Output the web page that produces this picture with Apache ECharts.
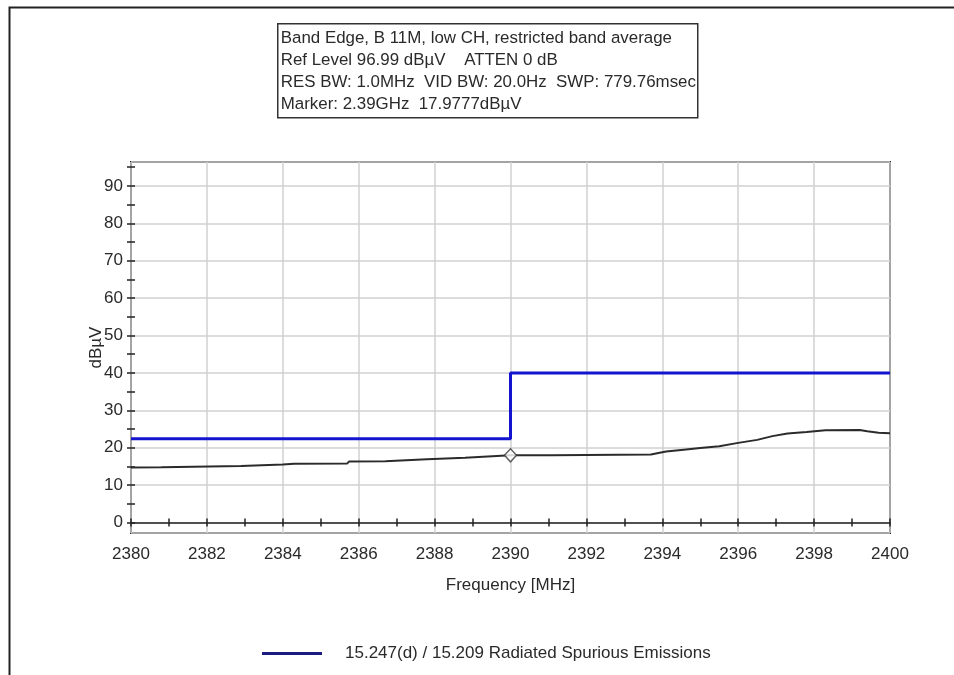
<!DOCTYPE html>
<html>
<head>
<meta charset="utf-8">
<title>Band Edge, B 11M, low CH</title>
<script src="https://cdn.jsdelivr.net/npm/echarts@6/dist/echarts.min.js"></script>
<style>
  html, body { margin: 0; padding: 0; background: #fff; }
  #chart { width: 954px; height: 675px; }
</style>
</head>
<body>
<div id="chart"></div>
<script>
// Header block text
const infoLines = [
  'Band Edge, B 11M, low CH, restricted band average',
  'Ref Level 96.99 dB\u00B5V    ATTEN 0 dB',
  'RES BW: 1.0MHz  VID BW: 20.0Hz  SWP: 779.76msec',
  'Marker: 2.39GHz  17.9777dB\u00B5V'
];

// Axis settings
const xRange = [2380, 2400];
const yRange = [-2.8, 96.4];
const xLabelStep = 2;
const yLabelStep = 10;
const xAxisName = 'Frequency [MHz]';
const yAxisName = 'dB\u00B5V';

// Limit line: 15.247(d) / 15.209 restricted band limit (frequency MHz, dBµV)
const limitName = '15.247(d) / 15.209 Radiated Spurious Emissions';
const limitFreq = [2380, 2390, 2390, 2400];
const limitLevel = [22.4, 22.4, 40, 40];

// Measured average trace (frequency MHz, dBµV)
const traceFreq = [
  2380, 2380.8, 2380.85, 2382.9, 2382.95, 2384.0, 2384.05, 2384.3,
  2385.7, 2385.75, 2386.7, 2386.75, 2387.8, 2387.85, 2388.8, 2388.85,
  2390, 2391.1, 2391.15, 2393.7, 2394.1, 2394.5, 2395.0, 2395.5,
  2396.0, 2396.5, 2396.9, 2397.3, 2397.8, 2398.3, 2399.2, 2399.4,
  2399.7, 2400
];
const traceLevel = [
  14.7, 14.8, 15.0, 15.1, 15.45, 15.5, 15.9, 15.7,
  15.8, 16.35, 16.4, 16.9, 16.95, 17.3, 17.35, 17.75,
  17.98, 18.0, 18.15, 18.2, 19.0, 19.4, 19.9, 20.4,
  21.3, 22.1, 23.1, 23.8, 24.2, 24.65, 24.75, 24.4,
  24.0, 23.85
];

// Marker
const markerFreq = 2390;
const markerLevel = 17.9777;

const FONT = '"Liberation Sans", Arial, sans-serif';
const TEXT = '#2a2a2a';
const GRID_LINE = { show: true, lineStyle: { color: '#d0d0d0', width: 1.5 } };

const zip = (a, b) => a.map((v, i) => [v, b[i]]);

const chart = echarts.init(document.getElementById('chart'), null, { renderer: 'canvas' });

// Pixel scale of the data grid is used to line up the tick-mark grid (0..95 dBµV)
const plotTop = 162, plotBottomPx = 533;
const pxPerUnit = (plotBottomPx - plotTop) / (yRange[1] - yRange[0]);
const zeroPx = plotBottomPx - (0 - yRange[0]) * pxPerUnit;
const tickMax = 95;
const tickTopPx = zeroPx - tickMax * pxPerUnit;

const tickAxisX = (inside, showLine) => ({
  type: 'value', gridIndex: 1, position: 'bottom',
  min: xRange[0], max: xRange[1], interval: 1,
  axisLine: { show: showLine, onZero: false, lineStyle: { color: '#222', width: 1.5 } },
  axisTick: { show: true, inside: inside, length: 4, lineStyle: { color: '#222', width: 1.5 } },
  axisLabel: { show: false }, splitLine: { show: false }
});
const tickAxisY = (inside) => ({
  type: 'value', gridIndex: 1, position: 'left',
  min: 0, max: tickMax, interval: 5,
  axisLine: { show: false },
  axisTick: { show: true, inside: inside, length: 4, lineStyle: { color: '#222', width: 1.5 } },
  axisLabel: { show: false }, splitLine: { show: false }
});

const option = {
  animation: false,
  backgroundColor: '#fff',
  textStyle: { fontFamily: FONT },
  graphic: [
    {
      type: 'rect', left: 7, top: 5, z: -10,
      shape: { width: 1000, height: 700 },
      style: { fill: 'none', stroke: '#222', lineWidth: 2 }
    },
    {
      type: 'group', left: 277, top: 23,
      children: [
        {
          type: 'rect', shape: { x: 0, y: 0, width: 420, height: 94 },
          style: { fill: '#fff', stroke: '#333', lineWidth: 1.5 }
        },
        {
          type: 'text', x: 3, y: 3,
          style: {
            text: infoLines.join('\n'), fill: TEXT,
            font: '16.9px ' + FONT, lineHeight: 22.3
          }
        }
      ]
    }
  ],
  grid: [
    {
      left: 131, right: 64, top: plotTop, bottom: 675 - plotBottomPx,
      show: true, borderColor: '#222', borderWidth: 2, backgroundColor: 'transparent'
    },
    {
      left: 131, right: 64, top: tickTopPx, bottom: 675 - zeroPx,
      show: false
    }
  ],
  legend: {
    data: [{ name: limitName, icon: 'rect', itemStyle: { color: '#1b1b80' } }],
    left: 262, top: 645, padding: 0,
    itemWidth: 60, itemHeight: 3,
    textStyle: { fontSize: 17, color: TEXT, fontFamily: FONT, padding: [0, 0, 0, 18] }
  },
  xAxis: [
    {
      type: 'value', gridIndex: 0, position: 'bottom',
      min: xRange[0], max: xRange[1], interval: xLabelStep,
      axisLine: { show: false, onZero: false },
      axisTick: { show: false },
      axisLabel: { fontSize: 17, color: TEXT, margin: 13, fontFamily: FONT, formatter: v => String(v) },
      splitLine: GRID_LINE,
      name: xAxisName, nameLocation: 'middle', nameGap: 44,
      nameTextStyle: { fontSize: 17, color: TEXT, fontFamily: FONT }
    },
    tickAxisX(false, true),
    tickAxisX(true, false)
  ],
  yAxis: [
    {
      type: 'value', gridIndex: 0,
      min: yRange[0], max: yRange[1],
      splitNumber: 10, minInterval: yLabelStep, maxInterval: yLabelStep,
      axisLine: { show: false }, axisTick: { show: false },
      axisLabel: {
        fontSize: 17, color: TEXT, margin: 8, fontFamily: FONT,
        showMinLabel: false, showMaxLabel: false,
        formatter: v => (Math.abs(v % yLabelStep) < 1e-6 ? String(Math.round(v)) : '')
      },
      splitLine: GRID_LINE,
      name: yAxisName, nameLocation: 'middle', nameGap: 26, nameRotate: 90,
      nameMoveOverlap: false,
      nameTextStyle: { fontSize: 17, color: TEXT, fontFamily: FONT }
    },
    tickAxisY(false),
    tickAxisY(true)
  ],
  series: [
    {
      name: limitName, type: 'line', xAxisIndex: 0, yAxisIndex: 0,
      data: zip(limitFreq, limitLevel),
      symbol: 'none', z: 3,
      lineStyle: { color: '#1414d0', width: 3 },
      itemStyle: { color: '#1414d0' }
    },
    {
      name: 'Trace', type: 'line', xAxisIndex: 0, yAxisIndex: 0,
      data: zip(traceFreq, traceLevel),
      symbol: 'none', z: 4,
      lineStyle: { color: '#2b2b2b', width: 2 }
    },
    {
      name: 'Marker', type: 'scatter', xAxisIndex: 0, yAxisIndex: 0,
      data: [[markerFreq, markerLevel]],
      symbol: 'diamond', symbolSize: [12, 13], z: 5,
      itemStyle: { color: '#fff', borderColor: '#3a3a3a', borderWidth: 1.5 }
    }
  ]
};

chart.setOption(option);
</script>
</body>
</html>
